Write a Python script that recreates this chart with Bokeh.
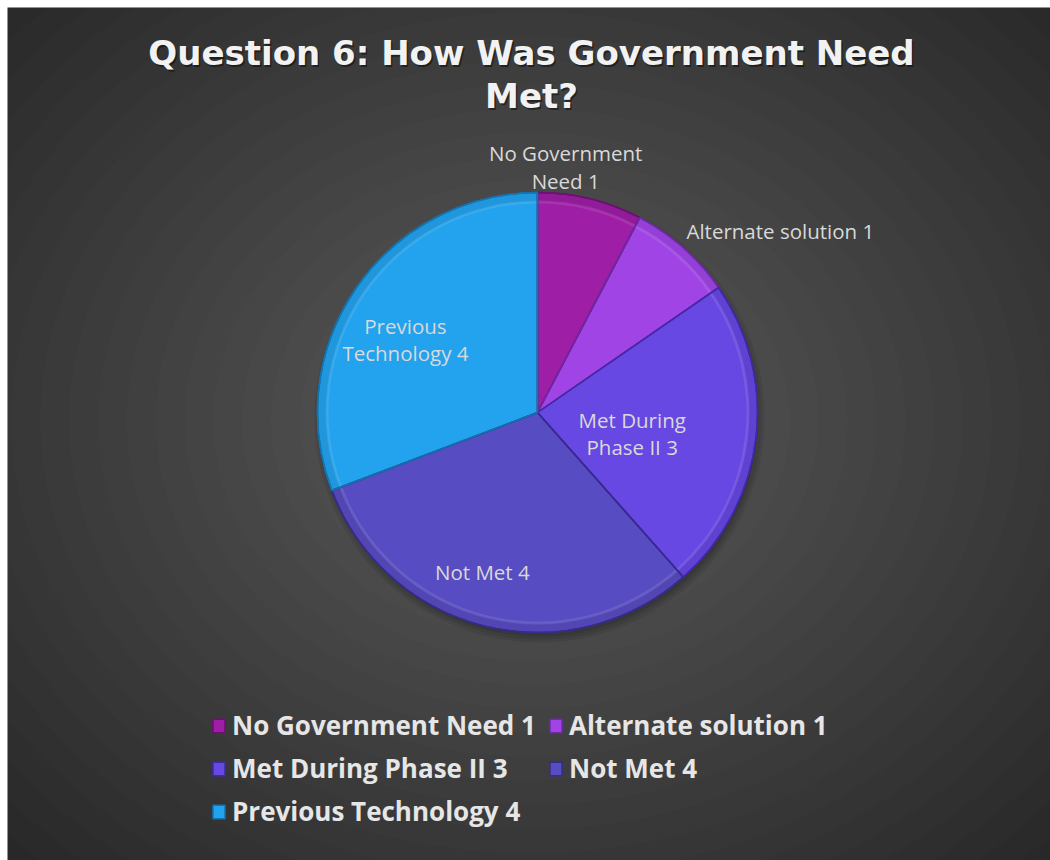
import math
from bokeh.plotting import figure
from bokeh.models import Range1d, Legend, LegendItem, ColumnDataSource
from bokeh.core.properties import value
from bokeh.embed import file_html
from bokeh.resources import INLINE

# ---- data ----
title_lines = ["Question 6: How Was Government Need", "Met?"]
categories = ["No Government Need", "Alternate solution", "Met During Phase II", "Not Met", "Previous Technology"]
counts = [1, 1, 3, 4, 4]
label_texts = ["No Government\nNeed 1", "Alternate solution 1", "Met During\nPhase II 3", "Not Met 4", "Previous\nTechnology 4"]
legend_texts = ["No Government Need 1", "Alternate solution 1", "Met During Phase II 3", "Not Met 4", "Previous Technology 4"]

# ---- style ----
colors = ["#9e1ea6", "#a044e6", "#6848e2", "#584cc2", "#23a2ed"]
edge_colors = ["#6e0f74", "#6e2aa8", "#3f2aa6", "#372c8c", "#1374b0"]
label_angle_offsets = [-7.3, -2.2, 5.6, 5.2, -5.6]   # degrees
label_radii = [247, 235, 97, 169, 151]
label_aligns = ["center", "left", "center", "center", "center"]

W, H = 1043, 853
OX, OY = 7, 860  # reference offset


def fx(x):
    return x - OX


def fy(y):
    return OY - y


p = figure(width=W, height=H, output_backend="svg", toolbar_location=None,
           x_range=Range1d(0, W), y_range=Range1d(0, H), min_border=0,
           margin=(7, 0, 0, 7))
p.axis.visible = False
p.grid.visible = False
p.outline_line_color = None
p.background_fill_color = "#262626"
p.border_fill_color = "#262626"

# background radial gradient
gcx, gcy = fx(530), fy(420)
n = 26
for i in range(n):
    t = 1 - i / n
    p.ellipse(x=gcx, y=gcy, width=1500 * t, height=1250 * t,
              fill_color="white", fill_alpha=0.0105, line_color=None)

# pie
cx, cy, R = fx(537), fy(412), 220
total = sum(counts)
cum = [0]
for c in counts:
    cum.append(cum[-1] + c)
starts = [math.pi / 2 - 2 * math.pi * cum[i] / total for i in range(len(counts))]
ends = [math.pi / 2 - 2 * math.pi * cum[i + 1] / total for i in range(len(counts))]

# shadow
for k, a in enumerate([0.08, 0.08, 0.10]):
    p.circle(x=cx + 2, y=cy - 5, radius=R + 5 - 3 * k, fill_color="black",
             fill_alpha=a, line_color=None)

src = ColumnDataSource(dict(start=starts, end=ends, color=colors, edge=edge_colors,
                            cat=categories, count=counts))
wr = p.wedge(x=cx, y=cy, radius=R, start_angle="start", end_angle="end",
             direction="clock", fill_color="color", line_color="edge",
             line_width=1.5, source=src)
# bevel: subtle darker outer rim and light inner highlight
p.annular_wedge(x=cx, y=cy, inner_radius=R - 9, outer_radius=R, start_angle="start",
                end_angle="end", direction="clock", fill_color="black", fill_alpha=0.07,
                line_color=None, source=src)
p.annular_wedge(x=cx, y=cy, inner_radius=R - 11, outer_radius=R - 8, start_angle="start",
                end_angle="end", direction="clock", fill_color="white", fill_alpha=0.10,
                line_color=None, source=src)
p.wedge(x=cx, y=cy, radius=R, start_angle="start", end_angle="end",
        direction="clock", fill_color=None, line_color="edge",
        line_width=1.5, source=src)

# data labels
lx, ly = [], []
for i in range(len(counts)):
    mid = 360 * (cum[i] + cum[i + 1]) / 2 / total + label_angle_offsets[i]
    th = math.radians(mid)
    lx.append(cx + label_radii[i] * math.sin(th))
    ly.append(cy + label_radii[i] * math.cos(th))
p.text(x=lx, y=ly, text=label_texts, text_align=label_aligns, text_baseline="middle",
       text_font=value("Open Sans"), text_font_size="20.5px", text_color="#d9d9d9",
       text_line_height=0.98)

# title
tx = fx(531)
p.text(x=[tx + 1.5, tx + 1.5], y=[fy(52) - 2, fy(95) - 2], text=title_lines, text_align="center",
       text_baseline="middle", text_font=value("DejaVu Sans"), text_font_style="bold",
       text_font_size="34px", text_color="black", text_alpha=0.45)
p.text(x=[tx, tx], y=[fy(52), fy(95)], text=title_lines, text_align="center",
       text_baseline="middle", text_font=value("DejaVu Sans"), text_font_style="bold",
       text_font_size="34px", text_color="#f2f2f2")

# legend
items = [LegendItem(label=legend_texts[i], renderers=[wr], index=i) for i in range(len(counts))]
legend = Legend(items=items, location=(fx(211), fy(829)), orientation="horizontal", ncols=2,
                label_text_font="Open Sans", label_text_font_style="bold",
                label_text_font_size="26px", label_text_color="#e6e6e6",
                glyph_width=15, glyph_height=17, label_standoff=6, label_height=26,
                label_width=309, spacing=7, padding=0, margin=0, border_line_color=None,
                background_fill_alpha=0)
p.add_layout(legend, "center")

open("out.html", "w").write(file_html(p, INLINE))
